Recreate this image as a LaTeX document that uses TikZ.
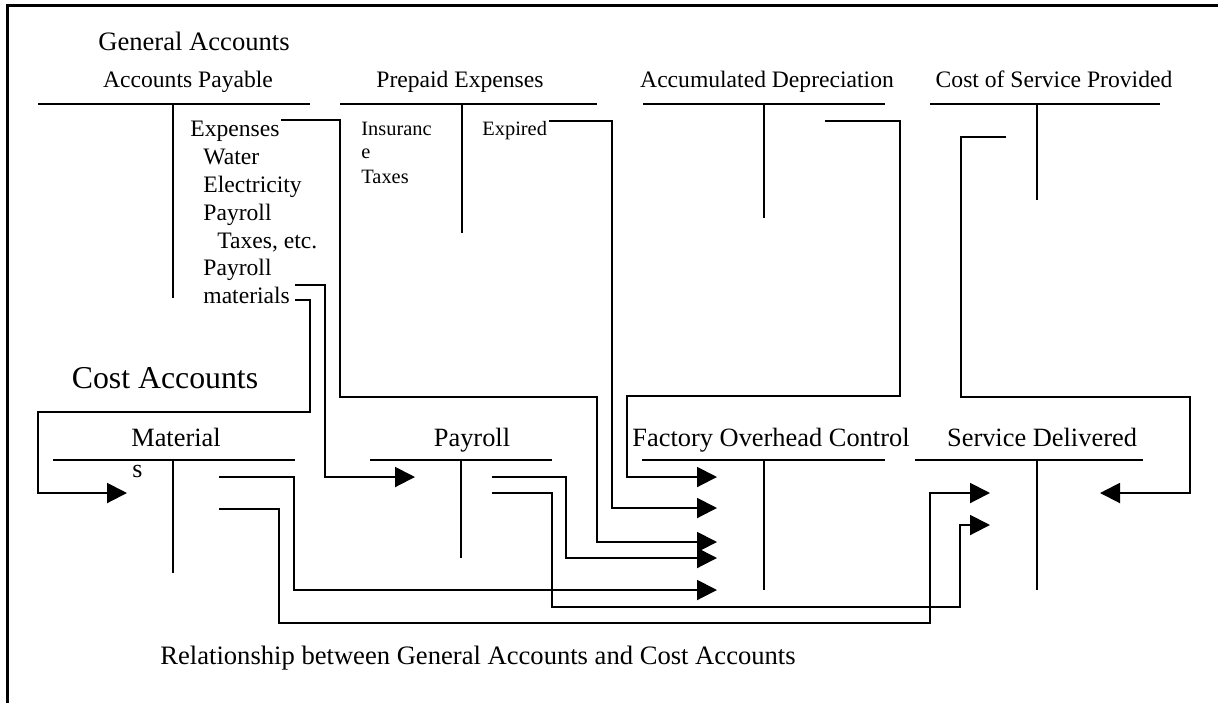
\documentclass[tikz,border=0pt]{standalone}
\usepackage{fontspec}
\setmainfont{Liberation Serif}
\usetikzlibrary{arrows.meta}
\begin{document}
\begin{tikzpicture}[x=0.5pt,y=-0.5pt,
  tline/.style={line width=1pt},
  link/.style={line width=1pt, line join=miter},
  flow/.style={link, -{Triangle[length=10pt,width=10pt]}},
  lbl/.style={inner sep=0pt, anchor=base},
  item/.style={inner sep=0pt, anchor=base west, font=\fontsize{11.8}{14}\selectfont},
  small/.style={inner sep=0pt, anchor=base west, font=\fontsize{10.2}{12}\selectfont},
  head/.style={lbl, font=\fontsize{11.8}{14}\selectfont},
  chead/.style={lbl, font=\fontsize{13.2}{16}\selectfont},
  big/.style={lbl, font=\fontsize{13.3}{16}\selectfont},
]
\useasboundingbox (0,0) rectangle (1218,703);
\fill[white] (0,0) rectangle (1218,703);
% open frame
\draw[line width=1.5pt] (7,703) -- (7,5) -- (1218,5);

% ---------- general accounts ----------
\node[big] (gen) at (194,50) {General Accounts};

\node[head] (apT) at (188,87) {Accounts Payable};
\draw[tline] (38,104) -- (310,104) (173,104) -- (173,298);
\node[item] (apExp) at (190,136) {Expenses};
\node[item] (apWat) at (203,164) {Water};
\node[item] (apEle) at (203,192) {Electricity};
\node[item] (apPay) at (203,220) {Payroll};
\node[item] (apTax) at (217,248) {Taxes, etc.};
\node[item] (apPay2) at (203,275) {Payroll};
\node[item] (apMat) at (203,303) {materials};

\node[head] (peT) at (460,87) {Prepaid Expenses};
\draw[tline] (340,104) -- (597,104) (462,104) -- (462,233);
\node[small] (peIns) at (361,135) {Insuranc};
\node[small] (peE) at (361,158) {e};
\node[small] (peTax) at (361,183) {Taxes};
\node[small] (peExp) at (482,135) {Expired};

\node[head] (adT) at (767,87) {Accumulated Depreciation};
\draw[tline] (643,104) -- (885,104) (764,104) -- (764,218);

\node[head] (csT) at (1054,87) {Cost of Service Provided};
\draw[tline] (930,104) -- (1160,104) (1037,104) -- (1037,200);

% ---------- cost accounts ----------
\node[lbl, font=\fontsize{15.9}{19}\selectfont] (cost) at (165,388) {Cost Accounts};

\node[chead] (matT) at (176,446) {Material};
\node[inner sep=0pt, anchor=base west, font=\fontsize{13}{16}\selectfont] (matS) at (132,477) {s};
\draw[tline] (53,460) -- (295,460) (173,460) -- (173,573);

\node[chead] (payT) at (472,446) {Payroll};
\draw[tline] (370,460) -- (552,460) (461,460) -- (461,558);

\node[chead] (focT) at (771,446) {Factory Overhead Control};
\draw[tline] (642,460) -- (885,460) (764,460) -- (764,590);

\node[chead] (sdT) at (1042,446) {Service Delivered};
\draw[tline] (915,460) -- (1143,460) (1037,460) -- (1037,590);

% connector end points
\coordinate (expOut) at (281,120);
\coordinate (payOut) at (295,285);
\coordinate (matOut) at (295,300);
\coordinate (expiredOut) at (549,121);
\coordinate (adOut) at (825,121);
\coordinate (csOut) at (1006,137);
\coordinate (matDr) at (127,493);
\coordinate (payDr) at (415,477);
\coordinate (focA) at (717,477);
\coordinate (focB) at (717,508);
\coordinate (focC) at (717,542);
\coordinate (focD) at (717,558);
\coordinate (focE) at (717,590);
\coordinate (sdA) at (990,493);
\coordinate (sdB) at (990,525);
\coordinate (sdCr) at (1100,493);
\coordinate (matCrA) at (219,477);
\coordinate (matCrB) at (219,509);
\coordinate (payCrA) at (492,477);
\coordinate (payCrB) at (492,493);

% ---------- postings ----------
\draw[flow] (expOut) -- (340,120) -- (340,397) -- (597,397) -- (597,542) -- (focC);
\draw[flow] (payOut) -- (325,285) -- (325,477) -- (payDr);
\draw[flow] (matOut) -- (310,300) -- (310,412) -- (38,412) -- (38,493) -- (matDr);
\draw[flow] (expiredOut) -- (612,121) -- (612,508) -- (focB);
\draw[flow] (adOut) -- (900,121) -- (900,396) -- (627,396) -- (627,477) -- (focA);
\draw[flow] (csOut) -- (961,137) -- (961,397) -- (1190,397) -- (1190,493) -- (sdCr);
\draw[flow] (matCrA) -- (294,477) -- (294,590) -- (focE);
\draw[flow] (matCrB) -- (279,509) -- (279,623) -- (930,623) -- (930,493) -- (sdA);
\draw[flow] (payCrA) -- (566,477) -- (566,558) -- (focD);
\draw[flow] (payCrB) -- (552,493) -- (552,607) -- (960,607) -- (960,525) -- (sdB);

\node[big] (cap) at (478,664) {Relationship between General Accounts and Cost Accounts};
\end{tikzpicture}
\end{document}
